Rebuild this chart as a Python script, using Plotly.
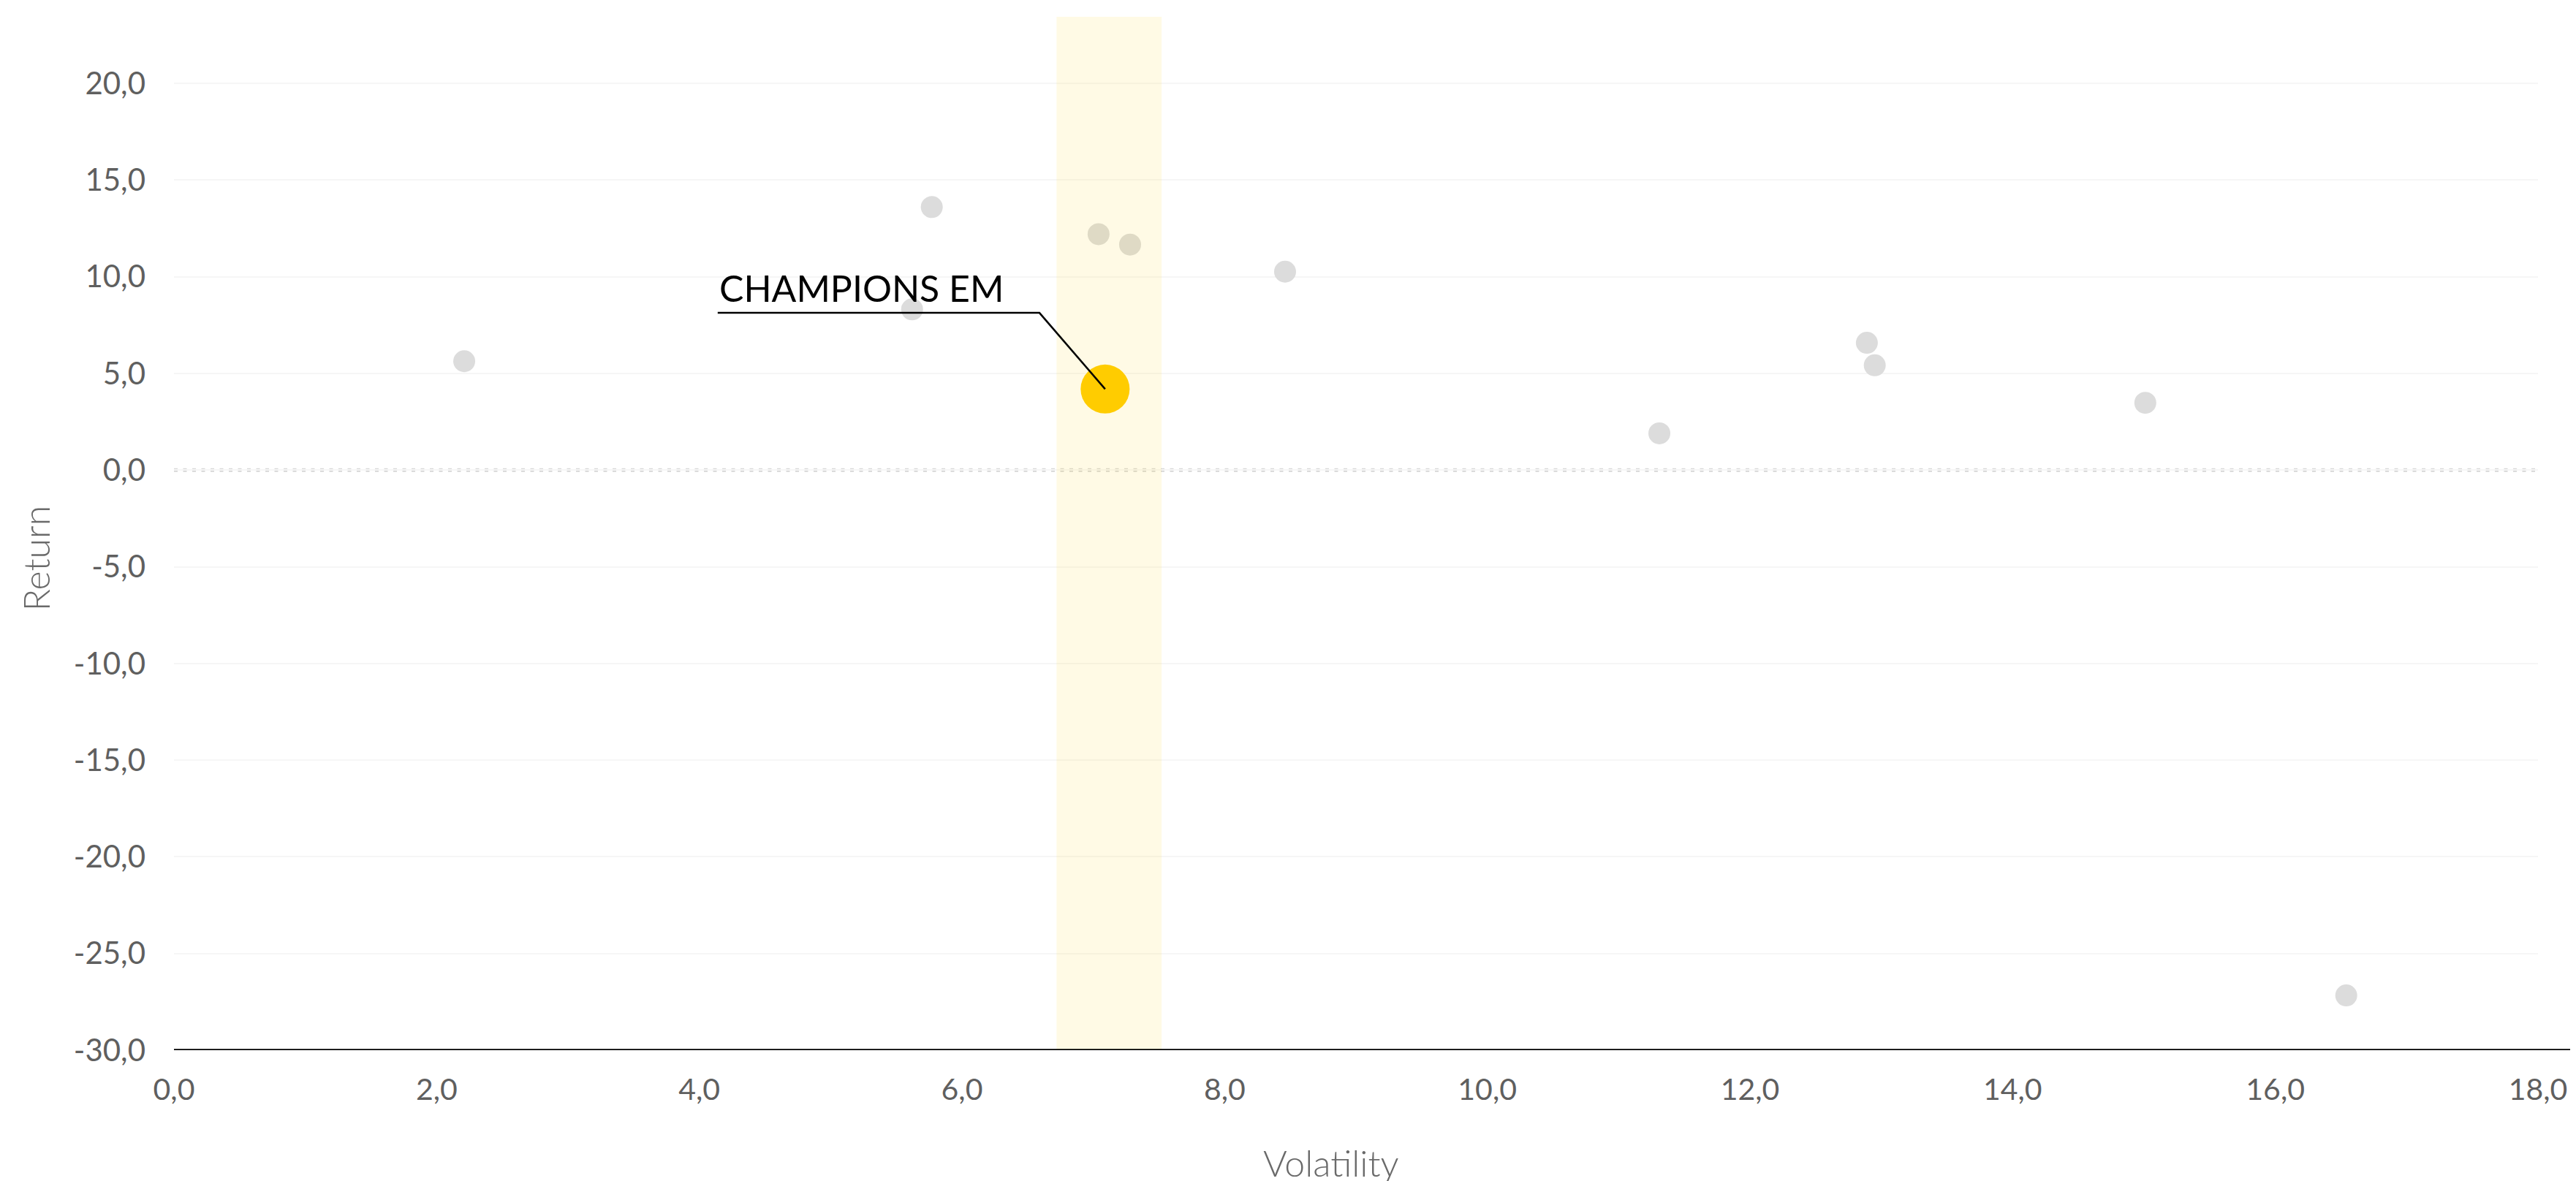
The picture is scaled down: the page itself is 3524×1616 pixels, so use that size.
import plotly.graph_objects as go

# ---- data ----
peer_volatility = [2.21, 5.62, 5.77, 7.04, 7.28, 8.46, 11.31, 12.89, 12.95, 15.01, 16.54]
peer_return = [5.63, 8.31, 13.6, 12.2, 11.66, 10.26, 1.90, 6.58, 5.42, 3.48, -27.17]

fund_name = "CHAMPIONS EM"
fund_volatility = [7.09]
fund_return = [4.19]

band_volatility = [6.72, 7.52]   # highlighted volatility band

x_tick_vals = [0, 2, 4, 6, 8, 10, 12, 14, 16, 18]
x_tick_labels = ["0,0", "2,0", "4,0", "6,0", "8,0", "10,0", "12,0", "14,0", "16,0", "18,0"]
y_tick_vals = [-30, -25, -20, -15, -10, -5, 0, 5, 10, 15, 20]
y_tick_labels = ["-30,0", "-25,0", "-20,0", "-15,0", "-10,0", "-5,0", "0,0", "5,0", "10,0", "15,0", "20,0"]

x_range = [0, 18]
y_range = [-30, 23.44]

label_pos = [4.14, 8.13]   # start of label underline (volatility, return)
label_elbow_x = 6.59

FONT = "Lato"
TICK_COLOR = "#5f5f5f"

# page body has an 8px margin; size the figure so it fills the window exactly
BODY = 8
W, H = 3524 - BODY, 1616 - BODY
ML, MR, MT, MB = 238 - BODY, 46, 23 - BODY, 179
PLOT_W = W - ML - MR

fig = go.Figure()

fig.add_trace(go.Scatter(
    x=peer_volatility, y=peer_return, mode="markers",
    marker=dict(size=30, color="#dcdcdc", line=dict(width=0)),
    hoverinfo="skip", showlegend=False))

fig.add_trace(go.Scatter(
    x=[band_volatility[0], band_volatility[1], band_volatility[1], band_volatility[0], band_volatility[0]],
    y=[y_range[0], y_range[0], y_range[1], y_range[1], y_range[0]],
    mode="lines", fill="toself", fillcolor="rgba(255,204,0,0.10)",
    line=dict(width=0), hoverinfo="skip", showlegend=False))

fig.add_trace(go.Scatter(
    x=fund_volatility, y=fund_return, mode="markers",
    marker=dict(size=67, color="#ffcc00", line=dict(width=0)),
    hoverinfo="skip", showlegend=False))

# leader line for the label
fig.add_trace(go.Scatter(
    x=[label_pos[0], label_elbow_x, fund_volatility[0]],
    y=[label_pos[1], label_pos[1], fund_return[0]],
    mode="lines", line=dict(color="#000000", width=2.5),
    hoverinfo="skip", showlegend=False))

shapes = [
    dict(type="line", xref="paper", yref="y", x0=0, x1=1, y0=0, y1=0,
         line=dict(color="#d6d6d6", width=5, dash="5px,7.5px"), layer="below"),
    dict(type="line", xref="paper", yref="y", x0=0, x1=(W - ML) / PLOT_W, y0=y_range[0], y1=y_range[0],
         line=dict(color="#000000", width=3.5), layer="above"),
]

annotations = [
    dict(text=fund_name, x=label_pos[0], y=9.41, xref="x", yref="y",
         xanchor="left", yanchor="middle", showarrow=False,
         font=dict(family=FONT, size=50, color="#000000")),
    dict(text="Return", x=(49 - 238) / PLOT_W, y=0.476, xref="paper", yref="paper",
         xanchor="center", yanchor="middle", textangle=-90, showarrow=False,
         font=dict(family=FONT, size=50, color="#6a6a6a", weight=300)),
    dict(text="Volatility", x=(1824 - 238) / PLOT_W, y=-0.109, xref="paper", yref="paper",
         xanchor="center", yanchor="middle", showarrow=False,
         font=dict(family=FONT, size=50, color="#6a6a6a", weight=300)),
]

fig.update_layout(
    width=W, height=H,
    margin=dict(l=ML, r=MR, t=MT, b=MB, pad=0),
    paper_bgcolor="white", plot_bgcolor="white",
    shapes=shapes, annotations=annotations,
    font=dict(family=FONT, color=TICK_COLOR),
    xaxis=dict(range=x_range, tickvals=x_tick_vals, ticktext=x_tick_labels,
               showgrid=False, zeroline=False, showline=False, ticks="",
               ticklabelstandoff=26,
               tickfont=dict(family=FONT, size=41, color=TICK_COLOR)),
    yaxis=dict(range=y_range, tickvals=y_tick_vals, ticktext=y_tick_labels,
               showgrid=True, gridcolor="#f6f6f6", gridwidth=2,
               zeroline=False, showline=False, ticks="",
               ticklabelstandoff=38,
               tickfont=dict(family=FONT, size=42, color=TICK_COLOR)),
)

fig.write_html("out.html")
